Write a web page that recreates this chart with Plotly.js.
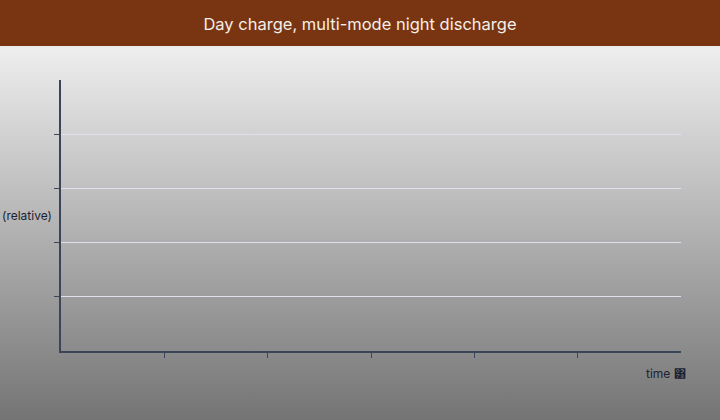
<!DOCTYPE html>
<html>
<head>
<meta charset="utf-8">
<script src="https://cdn.plot.ly/plotly-3.0.1.min.js"></script>
<style>
html,body{margin:0;padding:0;}
#chart{width:720px;height:420px;background:linear-gradient(to bottom,#f2f2f2 0%,#ededed 12%,#747474 100%);}
</style>
</head>
<body>
<div id="chart"></div>
<script>
// Data (the reference chart shows no plotted marks)
const timeValues = [];
const relativeValues = [];
const xTickVals = [1, 2, 3, 4, 5];
const yTickVals = [1, 2, 3, 4];
const xRange = [0, 6];
const yRange = [0, 5];
const titleText = "Day charge, multi-mode night discharge";
const xTitleText = "time \u0378";
const yTitleText = "(relative)";

const W = 720, H = 420;
const m = {l: 61, r: 39, t: 80, b: 69};
const pw = W - m.l - m.r, ph = H - m.t - m.b;
const axisColor = "#3a4558";

const layout = {
  width: W, height: H,
  margin: m,
  paper_bgcolor: "rgba(0,0,0,0)",
  plot_bgcolor: "rgba(0,0,0,0)",
  font: {family: "Inter, 'Open Sans', sans-serif", color: "#1c2231", size: 12},
  showlegend: false,
  title: {text: titleText, font: {family: "Inter, 'Open Sans', sans-serif", size: 16.5, color: "#f4efe9"},
          x: 0.5, xref: "container", xanchor: "center", y: 1 - 24/H, yref: "container", yanchor: "middle"},
  xaxis: {range: xRange, tickvals: xTickVals, ticktext: xTickVals.map(() => ""), showgrid: false, zeroline: false,
          showline: true, linecolor: axisColor, linewidth: 2, ticks: "outside", ticklen: 5, tickwidth: 1, tickcolor: axisColor,
          fixedrange: true},
  yaxis: {range: yRange, tickvals: yTickVals, ticktext: yTickVals.map(() => ""), showgrid: true, gridcolor: "#dfe2ec", gridwidth: 1,
          zeroline: false, showline: true, linecolor: axisColor, linewidth: 2, ticks: "outside", ticklen: 5, tickwidth: 1, tickcolor: axisColor,
          fixedrange: true},
  shapes: [{type: "rect", xref: "paper", yref: "paper", layer: "below",
            x0: -m.l/pw, x1: 1 + m.r/pw, y0: 1 + (m.t - 46)/ph, y1: 1 + m.t/ph,
            fillcolor: "#793512", line: {width: 0}}],
  annotations: [
    {text: yTitleText, xref: "paper", yref: "paper", x: (27 - m.l)/pw, y: (351 - 215)/ph, xanchor: "center", yanchor: "middle",
     showarrow: false, font: {size: 12, color: "#1c2231"}},
    {text: xTitleText, xref: "paper", yref: "paper", x: (688 - m.l)/pw, y: -(373 - 351)/ph, xanchor: "right", yanchor: "middle",
     showarrow: false, font: {size: 12, color: "#1c2231"}}
  ]
};

const data = [{type: "scatter", mode: "lines", x: timeValues, y: relativeValues, hoverinfo: "skip"}];
Plotly.newPlot("chart", data, layout, {displayModeBar: false, staticPlot: true});
</script>
</body>
</html>
